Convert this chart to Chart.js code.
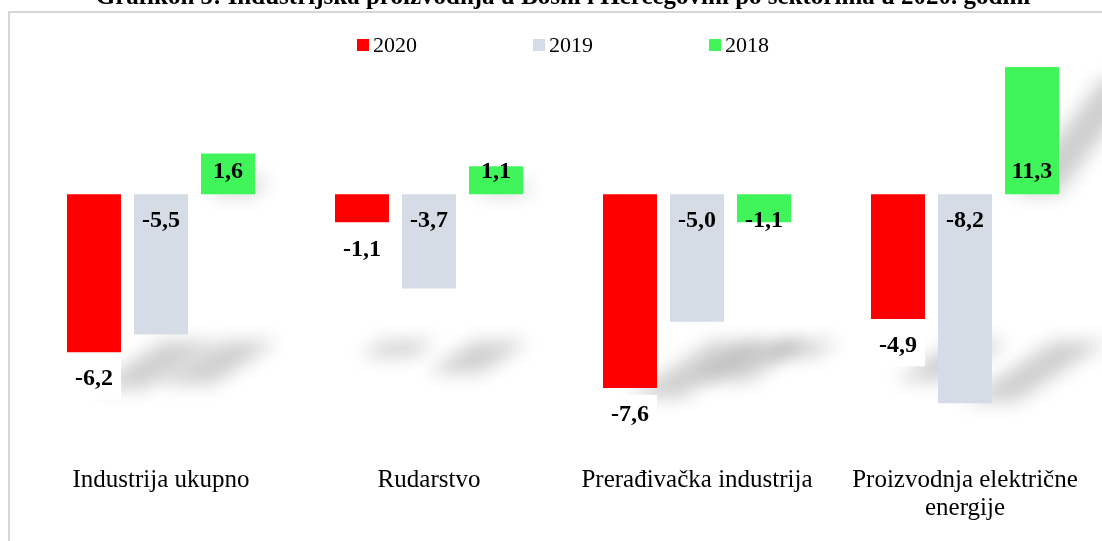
<!DOCTYPE html>
<html>
<head>
<meta charset="utf-8">
<script src="https://cdn.jsdelivr.net/npm/chart.js@4"></script>
<style>
  html, body { margin: 0; padding: 0; background: #fff; overflow: hidden; width: 1102px; height: 541px; }
  #frame { position: absolute; left: 8px; top: 11px; width: 1200px; height: 700px; border: 2px solid #d6d6d6; }
  #wrap { position: absolute; left: 0; top: -14px; }
  #legend { position: absolute; left: 357px; top: 32px; display: flex; gap: 116px; font: 22px 'Liberation Serif', serif; color: #000; }
  #legend .item { display: flex; align-items: center; line-height: 26px; }
  #legend .box { width: 12px; height: 12px; margin-right: 4px; }
</style>
</head>
<body>
<div id="frame"></div>
<div id="wrap"><canvas id="chart" width="1102" height="555"></canvas></div>
<div id="legend"></div>
<script>
const chartTitle = 'Grafikon 5: Industrijska proizvodnja u Bosni i Hercegovini po sektorima u 2020. godini';
const categories = ['Industrija ukupno', 'Rudarstvo', 'Prerađivačka industrija', ['Proizvodnja električne', 'energije']];
const seriesNames = ['2020', '2019', '2018'];
const values2020 = [-6.2, -1.1, -7.6, -4.9];
const values2019 = [-5.5, -3.7, -5.0, -8.2];
const values2018 = [1.6, 1.1, -1.1, 11.3];
const colors = ['#ff0000', '#d5dce6', '#40f55a'];

const fmt = v => v.toFixed(1).replace('.', ',');

// legend kao html, iz istih nizova
const legendEl = document.getElementById('legend');
seriesNames.forEach((name, i) => {
    const item = document.createElement('div');
    item.className = 'item';
    item.innerHTML = `<span class="box" style="background:${colors[i]}"></span><span>${name}</span>`;
    legendEl.appendChild(item);
});

// mekane sjene ispod stupaca (kao perspektivna sjena u Excelu) + bijela podloga za oznake 2020
const barShadows = {
    id: 'barShadows',
    beforeDatasetsDraw(chart) {
        const ctx = chart.ctx;
        ctx.save();
        ctx.filter = 'blur(9px)';
        ctx.fillStyle = 'rgba(0,0,0,0.19)';
        chart.data.datasets.forEach((ds, di) => {
            chart.getDatasetMeta(di).data.forEach((bar, i) => {
                const w = bar.width;
                const left = bar.x - w / 2;
                const right = bar.x + w / 2;
                const h = Math.abs(bar.y - bar.base);
                ctx.beginPath();
                if (ds.data[i] >= 0) {
                    ctx.moveTo(left + 10, bar.base);
                    ctx.lineTo(right, bar.base);
                    ctx.lineTo(right + 0.3 * h, bar.base - 0.4 * h);
                    ctx.lineTo(left + 10 + 0.3 * h, bar.base - 0.4 * h);
                } else {
                    const sh = 0.25 * h + 8;
                    const top = bar.base + 147;
                    ctx.moveTo(left + 25, top + sh);
                    ctx.lineTo(right + 25, top + sh);
                    ctx.lineTo(right + 25 + 1.5 * sh, top);
                    ctx.lineTo(left + 25 + 1.5 * sh, top);
                }
                ctx.closePath();
                ctx.fill();
            });
        });
        ctx.filter = 'none';
        ctx.fillStyle = '#fff';
        chart.getDatasetMeta(0).data.forEach(bar => {
            ctx.fillRect(bar.x - bar.width / 2, bar.y + 7, bar.width, 40);
        });
        ctx.restore();
    }
};

// oznake vrijednosti: 2020 ispod kraja stupca, ostale uz bazu
const valueLabels = {
    id: 'valueLabels',
    afterDatasetsDraw(chart) {
        const ctx = chart.ctx;
        ctx.save();
        ctx.font = 'bold 24px "Liberation Serif"';
        ctx.fillStyle = '#000';
        ctx.textAlign = 'center';
        ctx.textBaseline = 'middle';
        chart.data.datasets.forEach((ds, di) => {
            const meta = chart.getDatasetMeta(di);
            meta.data.forEach((bar, i) => {
                const v = ds.data[i];
                const neg = v < 0;
                let y;
                if (di === 0) {
                    y = bar.y + (neg ? 27 : -27);
                } else {
                    y = bar.base + (neg ? 26 : -23);
                }
                ctx.fillText(fmt(v), bar.x, y);
            });
        });
        ctx.restore();
    }
};

new Chart(document.getElementById('chart'), {
    type: 'bar',
    data: {
        labels: categories,
        datasets: [
            { label: seriesNames[0], data: values2020, backgroundColor: colors[0] },
            { label: seriesNames[1], data: values2019, backgroundColor: colors[1] },
            { label: seriesNames[2], data: values2018, backgroundColor: colors[2] }
        ]
    },
    options: {
        responsive: false,
        animation: false,
        events: [],
        layout: { padding: { left: 27, right: 3, top: 0, bottom: 0 } },
        datasets: { bar: { barPercentage: 0.806, categoryPercentage: 0.75 } },
        plugins: {
            legend: { display: false },
            tooltip: { enabled: false },
            title: {
                display: true,
                text: chartTitle,
                color: '#000',
                font: { family: 'Liberation Serif', size: 25, weight: 'bold' },
                padding: { top: -3, bottom: 54 }
            }
        },
        scales: {
            x: {
                grid: { display: false, drawTicks: false },
                border: { display: false },
                ticks: {
                    color: '#000',
                    font: { family: 'Liberation Serif', size: 25, lineHeight: 1.12 },
                    padding: 17,
                    maxRotation: 0,
                    autoSkip: false
                },
                afterFit: axis => { axis.height = 92; }
            },
            y: {
                display: false,
                min: -10,
                max: 5
            }
        }
    },
    plugins: [barShadows, valueLabels]
});
</script>
</body>
</html>
